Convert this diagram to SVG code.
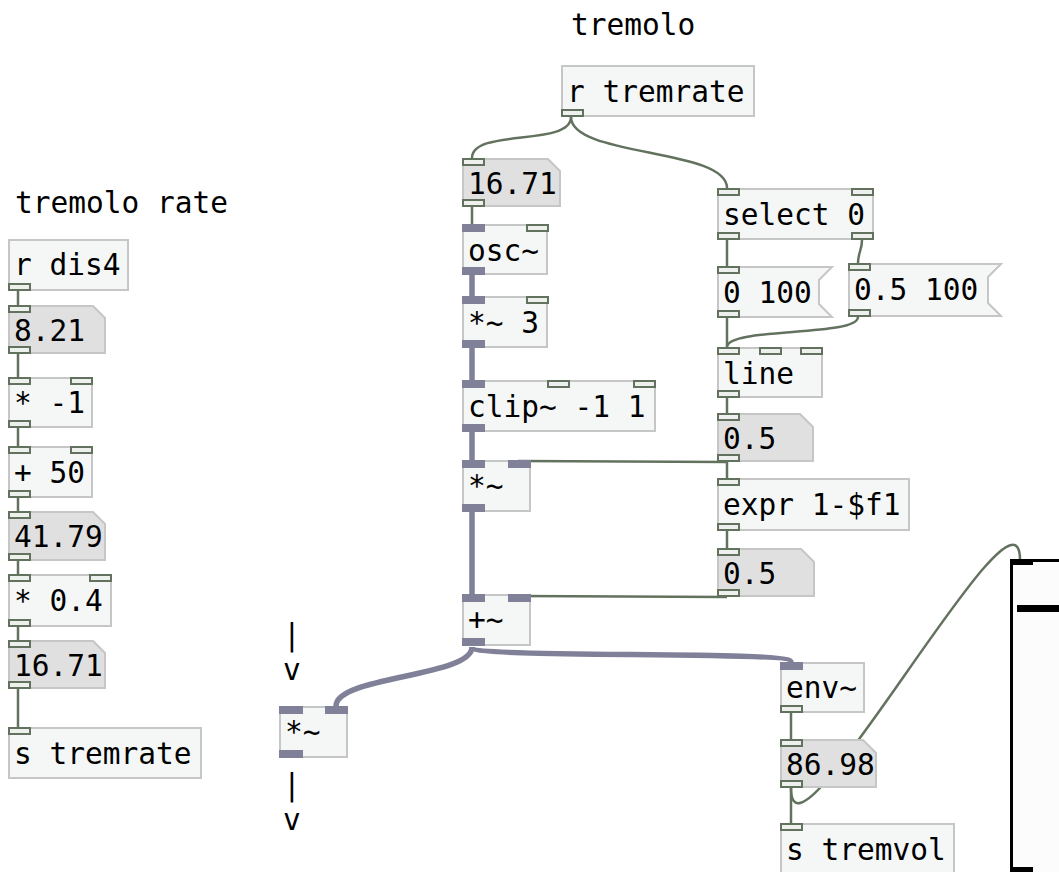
<svg xmlns="http://www.w3.org/2000/svg" width="1059" height="872" viewBox="0 0 1059 872">
<style>
.box{fill:#f5f7f7;stroke:#c6c6c6;stroke-width:2}
.num{fill:#e0e0e0;stroke:#c6c6c6;stroke-width:2}
.t{font-family:"DejaVu Sans Mono",monospace;font-size:29.5px;fill:#000}
.ci{fill:#eef0ee;stroke:#63725f;stroke-width:2}
.si{fill:#808099}
.cc{fill:none;stroke:#63725f;stroke-width:2.5}
.sc{fill:none;stroke:#808099;stroke-width:5.5}
</style>
<rect width="1059" height="872" fill="#ffffff"/>
<g id="comments">
<text class="t" x="571" y="35">tremolo</text>
<text class="t" x="15" y="213">tremolo rate</text>
<text class="t" x="292" y="645" text-anchor="middle">|</text>
<text class="t" x="292" y="680" text-anchor="middle">v</text>
<text class="t" x="292" y="795" text-anchor="middle">|</text>
<text class="t" x="292" y="830" text-anchor="middle">v</text>
</g>
<g id="connectors">
<path class="cc" d="M18 291V305M18 354V377M18 428V446M18 498V511M18 561V574M18 627V640M18 689V727"/>
<path class="cc" d="M571 117C571 147 472 128 472 158"/>
<path class="cc" d="M571 117C571 157 727 148 727 188"/>
<path class="cc" d="M472 207V224"/>
<path class="sc" d="M472 275V296M472 348V380M472 432V460M472 512V594"/>
<path class="cc" d="M727 462L518 461"/>
<path class="cc" d="M727 597L518 596"/>
<path class="sc" d="M472 647C472 677 336 676 336 706"/>
<path class="sc" d="M472 647C472 659 791 650 791 662"/>
<path class="cc" d="M727 240V266M727 318V347M727 398V413M727 462V478M727 531V548"/>
<path class="cc" d="M862 240C862 250 858 253 858 263"/>
<path class="cc" d="M858 317C858 337 727 327 727 347"/>
<path class="cc" d="M791 713V739M791 788V823"/>
<path class="cc" d="M791 788C791 888 1020 460 1020 560"/>
</g>
<g id="r_dis4"><rect class="box" x="9" y="240" width="119" height="50"/><text class="t" x="14" y="275">r dis4</text><rect class="ci" x="9" y="284" width="21" height="6"/></g>
<g id="num_8_21"><polygon class="num" points="9,306 93,306 105,318 105,353 9,353"/><text class="t" x="14" y="341">8.21</text><rect class="ci" x="9" y="306" width="21" height="6"/><rect class="ci" x="9" y="347" width="21" height="6"/></g>
<g id="mul_neg1"><rect class="box" x="9" y="378" width="83" height="49"/><text class="t" x="14" y="413">* -1</text><rect class="ci" x="9" y="378" width="21" height="6"/><rect class="ci" x="71" y="378" width="21" height="6"/><rect class="ci" x="9" y="421" width="21" height="6"/></g>
<g id="add_50"><rect class="box" x="9" y="447" width="83" height="50"/><text class="t" x="14" y="483">+ 50</text><rect class="ci" x="9" y="447" width="21" height="6"/><rect class="ci" x="71" y="447" width="21" height="6"/><rect class="ci" x="9" y="491" width="21" height="6"/></g>
<g id="num_41_79"><polygon class="num" points="9,512 93,512 105,524 105,560 9,560"/><text class="t" x="14" y="547">41.79</text><rect class="ci" x="9" y="512" width="21" height="6"/><rect class="ci" x="9" y="554" width="21" height="6"/></g>
<g id="mul_0_4"><rect class="box" x="9" y="575" width="102" height="51"/><text class="t" x="14" y="611">* 0.4</text><rect class="ci" x="9" y="575" width="21" height="6"/><rect class="ci" x="90" y="575" width="21" height="6"/><rect class="ci" x="9" y="620" width="21" height="6"/></g>
<g id="num_16_71_left"><polygon class="num" points="9,641 93,641 105,653 105,688 9,688"/><text class="t" x="14" y="676">16.71</text><rect class="ci" x="9" y="641" width="21" height="6"/><rect class="ci" x="9" y="682" width="21" height="6"/></g>
<g id="s_tremrate"><rect class="box" x="9" y="728" width="192" height="50"/><text class="t" x="14" y="764">s tremrate</text><rect class="ci" x="9" y="728" width="21" height="6"/></g>
<g id="r_tremrate"><rect class="box" x="562" y="66" width="192" height="50"/><text class="t" x="567" y="102">r tremrate</text><rect class="ci" x="562" y="110" width="21" height="6"/></g>
<g id="num_16_71_mid"><polygon class="num" points="463,159 548,159 560,171 560,206 463,206"/><text class="t" x="468" y="194">16.71</text><rect class="ci" x="463" y="159" width="21" height="6"/><rect class="ci" x="463" y="200" width="21" height="6"/></g>
<g id="osc"><rect class="box" x="463" y="225" width="84" height="49"/><text class="t" x="468" y="261">osc~</text><rect class="si" x="462" y="224" width="23" height="8"/><rect class="ci" x="527" y="225" width="21" height="6"/><rect class="si" x="462" y="267" width="23" height="8"/></g>
<g id="mul_sig_3"><rect class="box" x="463" y="297" width="84" height="50"/><text class="t" x="468" y="333">*~ 3</text><rect class="si" x="462" y="296" width="23" height="8"/><rect class="ci" x="527" y="297" width="21" height="6"/><rect class="si" x="462" y="340" width="23" height="8"/></g>
<g id="clip"><rect class="box" x="463" y="381" width="192" height="50"/><text class="t" x="468" y="417">clip~ -1 1</text><rect class="si" x="462" y="380" width="23" height="8"/><rect class="ci" x="548" y="381" width="21" height="6"/><rect class="ci" x="634" y="381" width="21" height="6"/><rect class="si" x="462" y="424" width="23" height="8"/></g>
<g id="mul_sig"><rect class="box" x="463" y="461" width="67" height="50"/><text class="t" x="468" y="496">*~</text><rect class="si" x="462" y="460" width="23" height="8"/><rect class="si" x="508" y="460" width="23" height="8"/><rect class="si" x="462" y="504" width="23" height="8"/></g>
<g id="add_sig"><rect class="box" x="463" y="595" width="67" height="50"/><text class="t" x="468" y="630">+~</text><rect class="si" x="462" y="594" width="23" height="8"/><rect class="si" x="508" y="594" width="23" height="8"/><rect class="si" x="462" y="638" width="23" height="8"/></g>
<g id="mul_sig_out"><rect class="box" x="280" y="707" width="67" height="50"/><text class="t" x="285" y="742">*~</text><rect class="si" x="279" y="706" width="24" height="8"/><rect class="si" x="325" y="706" width="23" height="8"/><rect class="si" x="279" y="750" width="24" height="8"/></g>
<g id="select_0"><rect class="box" x="718" y="189" width="155" height="50"/><text class="t" x="723" y="225">select 0</text><rect class="ci" x="718" y="189" width="21" height="6"/><rect class="ci" x="852" y="189" width="21" height="6"/><rect class="ci" x="718" y="233" width="21" height="6"/><rect class="ci" x="852" y="233" width="21" height="6"/></g>
<g id="msg_0_100"><polygon class="box" points="718,267 832,267 819,280 819,304 832,317 718,317"/><text class="t" x="723" y="303">0 100</text><rect class="ci" x="718" y="267" width="21" height="6"/><rect class="ci" x="718" y="311" width="21" height="6"/></g>
<g id="msg_0_5_100"><polygon class="box" points="849,264 1001,264 988,277 988,303 1001,316 849,316"/><text class="t" x="854" y="300">0.5 100</text><rect class="ci" x="849" y="264" width="21" height="6"/><rect class="ci" x="849" y="310" width="21" height="6"/></g>
<g id="line"><rect class="box" x="718" y="348" width="104" height="49"/><text class="t" x="723" y="384">line</text><rect class="ci" x="718" y="348" width="21" height="6"/><rect class="ci" x="760" y="348" width="21" height="6"/><rect class="ci" x="801" y="348" width="21" height="6"/><rect class="ci" x="718" y="391" width="21" height="6"/></g>
<g id="num_0_5_a"><polygon class="num" points="718,414 800,414 813,427 813,461 718,461"/><text class="t" x="723" y="449">0.5</text><rect class="ci" x="718" y="414" width="21" height="6"/><rect class="ci" x="718" y="455" width="21" height="6"/></g>
<g id="expr"><rect class="box" x="718" y="479" width="191" height="51"/><text class="t" x="723" y="515">expr 1-$f1</text><rect class="ci" x="718" y="479" width="21" height="6"/><rect class="ci" x="718" y="524" width="21" height="6"/></g>
<g id="num_0_5_b"><polygon class="num" points="718,549 801,549 814,562 814,596 718,596"/><text class="t" x="723" y="584">0.5</text><rect class="ci" x="718" y="549" width="21" height="6"/><rect class="ci" x="718" y="590" width="21" height="6"/></g>
<g id="env"><rect class="box" x="781" y="663" width="83" height="49"/><text class="t" x="786" y="698">env~</text><rect class="si" x="780" y="662" width="23" height="8"/><rect class="ci" x="781" y="706" width="21" height="6"/></g>
<g id="num_86_98"><polygon class="num" points="781,740 863,740 876,753 876,787 781,787"/><text class="t" x="786" y="775">86.98</text><rect class="ci" x="781" y="740" width="21" height="6"/><rect class="ci" x="781" y="781" width="21" height="6"/></g>
<g id="s_tremvol"><rect class="box" x="781" y="824" width="173" height="50"/><text class="t" x="786" y="860">s tremvol</text><rect class="ci" x="781" y="824" width="21" height="6"/></g>
<g id="vslider"><rect x="1011.5" y="560.5" width="70" height="320" fill="#fcfcfc" stroke="#000" stroke-width="3"/><rect x="1010" y="559" width="23" height="6" fill="#000"/><rect x="1017" y="605" width="60" height="7" fill="#000"/><rect x="1010" y="867" width="23" height="5" fill="#000"/></g>
</svg>
